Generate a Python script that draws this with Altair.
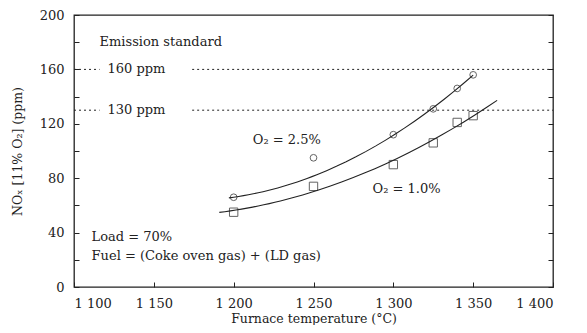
import altair as alt
import pandas as pd

# ---- data ----
temps_25 = [1200, 1250, 1300, 1325, 1340, 1350]
nox_25 = [66, 95, 112, 131, 146, 156]
temps_10 = [1200, 1250, 1300, 1325, 1340, 1350]
nox_10 = [55, 74, 90, 106, 121, 126]

x_ticks = [1100, 1150, 1200, 1250, 1300, 1350, 1400]
x_tick_labels = ["1 100", "1 150", "1 200", "1 250", "1 300", "1 350", "1 400"]
y_label_values = [0, 40, 80, 120, 160, 200]
y_tick_values = [0, 20, 40, 60, 80, 100, 120, 140, 160, 180, 200]

std_levels = [160, 130]
std_labels = ["160 ppm", "130 ppm"]

notes = ["Emission standard", "O\u2082 = 2.5%", "O\u2082 = 1.0%", "Load = 70%",
         "Fuel = (Coke oven gas) + (LD gas)"]
note_x = [1116, 1212, 1287, 1111, 1111]
note_y = [180, 108, 72, 37, 22.5]

FONT = "DejaVu Serif"
INK = "#222222"

pts = pd.DataFrame({
    "T": temps_25 + temps_10,
    "NOx": nox_25 + nox_10,
    "series": ["2.5"] * len(temps_25) + ["1.0"] * len(temps_10),
})

rules = pd.DataFrame({
    "y": std_levels * 2,
    "x1": [1100] * 2 + [1174] * 2,
    "x2": [1116] * 2 + [1400] * 2,
})
std_txt = pd.DataFrame({"y": std_levels, "label": std_labels, "x": [1121] * 2})
note_df = pd.DataFrame({"x": note_x, "y": note_y, "label": notes})

xscale = alt.Scale(domain=[1100, 1400], nice=False, zero=False)
yscale = alt.Scale(domain=[0, 200], nice=False)

label_expr = " : ".join(
    f"datum.value == {v} ? '{l}'" for v, l in zip(x_ticks, x_tick_labels)
) + " : ''"

ax_x_main = alt.Axis(orient="bottom", values=x_ticks, labelExpr=label_expr, ticks=False,
                     domain=False, grid=False, labelPadding=10,
                     title="Furnace temperature (\u00b0C)", titlePadding=2,
                     labelFont=FONT, titleFont=FONT, labelFontSize=13, titleFontSize=12.5,
                     titleFontWeight="normal", labelColor=INK, titleColor=INK)
ax_y_main = alt.Axis(orient="left", values=y_label_values, ticks=False, domain=False,
                     grid=False, labelPadding=10, title="NO\u2093 [11% O\u2082] (ppm)",
                     titlePadding=15, labelFont=FONT, titleFont=FONT, labelFontSize=13,
                     titleFontSize=12.5, titleFontWeight="normal", labelColor=INK,
                     titleColor=INK)
ax_x_ticks = alt.Axis(orient="top", offset=-272, values=x_ticks, labels=False, domain=False,
                      grid=False, ticks=True, tickSize=5, tickColor=INK, title=None)
ax_y_ticks_l = alt.Axis(orient="right", offset=-479, values=y_tick_values, labels=False,
                        domain=False, grid=False, ticks=True, tickSize=5, tickColor=INK,
                        title=None)
ax_y_ticks_r = alt.Axis(orient="left", offset=-479, values=y_tick_values, labels=False,
                        domain=False, grid=False, ticks=True, tickSize=5, tickColor=INK,
                        title=None)

base = alt.Chart(pts)

circles = base.transform_filter("datum.series == '2.5'").mark_point(
    shape="circle", filled=False, color=INK, size=45, strokeWidth=1
).encode(
    x=alt.X("T:Q", scale=xscale, axis=ax_x_main),
    y=alt.Y("NOx:Q", scale=yscale, axis=ax_y_main),
)

squares = base.transform_filter("datum.series == '1.0'").mark_point(
    shape="square", filled=False, color=INK, size=70, strokeWidth=1
).encode(
    x=alt.X("T:Q", scale=xscale, axis=ax_x_ticks),
    y=alt.Y("NOx:Q", scale=yscale, axis=ax_y_ticks_l),
)

fit25 = base.transform_filter("datum.series == '2.5' && datum.T != 1250").transform_regression(
    "T", "NOx", method="poly", order=2, extent=[1197, 1350]
).mark_line(color=INK, strokeWidth=1.1).encode(
    x=alt.X("T:Q", scale=xscale, axis=None),
    y=alt.Y("NOx:Q", scale=yscale, axis=ax_y_ticks_r),
)

fit10 = base.transform_filter("datum.series == '1.0'").transform_regression(
    "T", "NOx", method="poly", order=2, extent=[1191, 1365]
).mark_line(color=INK, strokeWidth=1.1).encode(
    x=alt.X("T:Q", scale=xscale, axis=None),
    y=alt.Y("NOx:Q", scale=yscale, axis=None),
)

std_rules = alt.Chart(rules).mark_rule(color=INK, strokeWidth=1, strokeDash=[2, 3]).encode(
    x=alt.X("x1:Q", scale=xscale, axis=None),
    x2="x2:Q",
    y=alt.Y("y:Q", scale=yscale, axis=None),
)

std_text = alt.Chart(std_txt).mark_text(align="left", baseline="middle", font=FONT,
                                        fontSize=13, color=INK).encode(
    x=alt.X("x:Q", scale=xscale, axis=None),
    y=alt.Y("y:Q", scale=yscale, axis=None),
    text="label:N",
)

note_text = alt.Chart(note_df).mark_text(align="left", baseline="middle", font=FONT,
                                         fontSize=13, color=INK).encode(
    x=alt.X("x:Q", scale=xscale, axis=None),
    y=alt.Y("y:Q", scale=yscale, axis=None),
    text="label:N",
)

chart = alt.layer(
    circles, squares, fit25, fit10, std_rules, std_text, note_text
).resolve_axis(x="independent", y="independent").properties(
    width=479, height=272,
    autosize=alt.AutoSizeParams(type="none"),
    padding={"left": 66, "top": 7, "right": 26, "bottom": 38},
    background="white",
).configure_view(stroke=INK, strokeWidth=1.3)

chart.save("out.html", embed_options={"renderer": "svg", "actions": False})
